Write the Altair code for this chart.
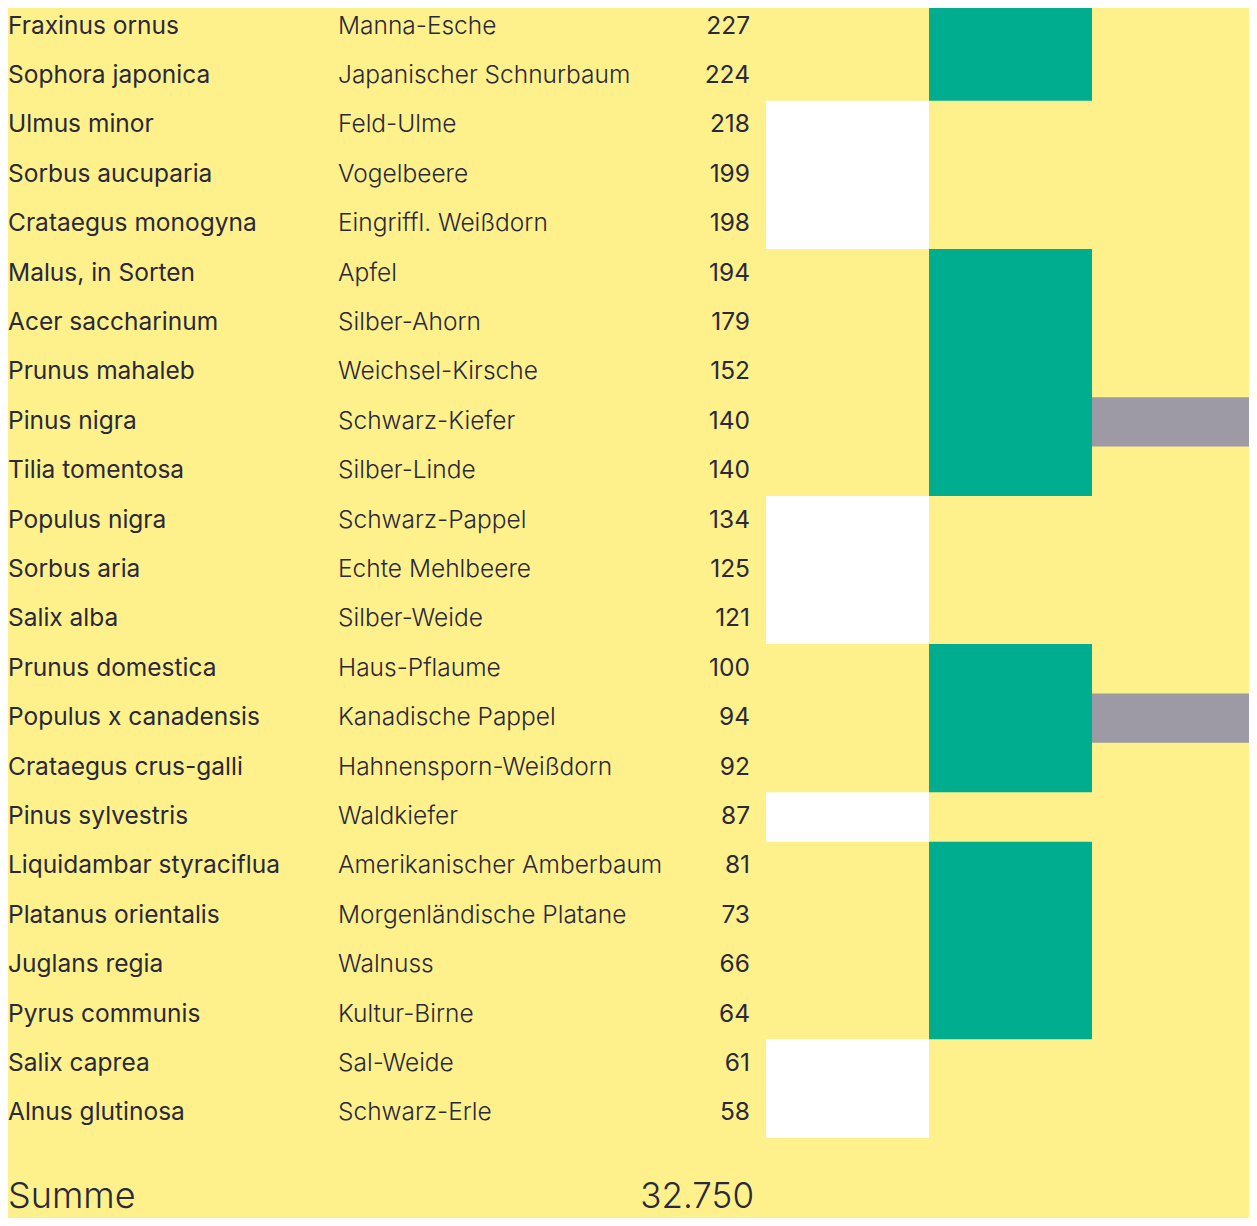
import altair as alt
import pandas as pd

latin = ["Fraxinus ornus", "Sophora japonica", "Ulmus minor", "Sorbus aucuparia",
         "Crataegus monogyna", "Malus, in Sorten", "Acer saccharinum", "Prunus mahaleb",
         "Pinus nigra", "Tilia tomentosa", "Populus nigra", "Sorbus aria", "Salix alba",
         "Prunus domestica", "Populus x canadensis", "Crataegus crus-galli",
         "Pinus sylvestris", "Liquidambar styraciflua", "Platanus orientalis",
         "Juglans regia", "Pyrus communis", "Salix caprea", "Alnus glutinosa"]
german = ["Manna-Esche", "Japanischer Schnurbaum", "Feld-Ulme", "Vogelbeere",
          "Eingriffl. Weißdorn", "Apfel", "Silber-Ahorn", "Weichsel-Kirsche",
          "Schwarz-Kiefer", "Silber-Linde", "Schwarz-Pappel", "Echte Mehlbeere",
          "Silber-Weide", "Haus-Pflaume", "Kanadische Pappel", "Hahnensporn-Weißdorn",
          "Waldkiefer", "Amerikanischer Amberbaum", "Morgenländische Platane",
          "Walnuss", "Kultur-Birne", "Sal-Weide", "Schwarz-Erle"]
counts = [227, 224, 218, 199, 198, 194, 179, 152, 140, 140, 134, 125, 121, 100,
          94, 92, 87, 81, 73, 66, 64, 61, 58]

categories = ["heimisch", "nicht heimisch", "weitere"]
heimisch = ["Ulmus minor", "Sorbus aucuparia", "Crataegus monogyna", "Populus nigra",
            "Sorbus aria", "Salix alba", "Pinus sylvestris", "Salix caprea",
            "Alnus glutinosa"]
nicht_heimisch = ["Fraxinus ornus", "Sophora japonica", "Malus, in Sorten",
                  "Acer saccharinum", "Prunus mahaleb", "Pinus nigra", "Tilia tomentosa",
                  "Prunus domestica", "Populus x canadensis", "Crataegus crus-galli",
                  "Liquidambar styraciflua", "Platanus orientalis", "Juglans regia",
                  "Pyrus communis"]
weitere = ["Pinus nigra", "Populus x canadensis"]

total_label = "Summe"
total = 32750

BG = "#FEF18B"
TXT = "#2A283B"
colors = ["#FFFFFF", "#00AD8E", "#9D9AA5"]

rows = pd.DataFrame({"latin": latin, "german": german, "count": counts})
rows["pos"] = [i + 0.5 for i in range(len(latin))]

# consecutive rows of the same category are merged into one block
block_recs = []
for kat, members in zip(categories, [heimisch, nicht_heimisch, weitere]):
    idx = sorted(latin.index(n) for n in members)
    start = prev = idx[0]
    for i in idx[1:] + [None]:
        if i is not None and i == prev + 1:
            prev = i
            continue
        block_recs.append({"kat": kat, "r0": start, "r1": prev + 1})
        if i is not None:
            start = prev = i
blocks = pd.DataFrame(block_recs)

summe = pd.DataFrame({"label": [total_label],
                      "value": [f"{total:,}".replace(",", ".")]})

yscale = alt.Scale(domain=[0, len(latin)], range=[-6, 1130], nice=False, zero=False)

rects = alt.Chart(blocks).mark_rect().encode(
    x=alt.X("kat:N", scale=alt.Scale(domain=categories, range=[758, 1247],
                                     paddingInner=0, paddingOuter=0), axis=None),
    y=alt.Y("r0:Q", scale=yscale, axis=None),
    y2="r1:Q",
    color=alt.Color("kat:N", scale=alt.Scale(domain=categories, range=colors), legend=None),
)

Y = alt.Y("pos:Q", scale=yscale, axis=None)
base_text = dict(font="Inter", fontSize=24.5, color=TXT, baseline="alphabetic", dy=7)

t_latin = alt.Chart(rows).mark_text(align="left", fontWeight=400, **base_text).encode(
    x=alt.value(0), y=Y, text="latin:N")
t_german = alt.Chart(rows).mark_text(align="left", fontWeight=300, **base_text).encode(
    x=alt.value(330), y=Y, text="german:N")
t_count = alt.Chart(rows).mark_text(align="right", fontWeight=400, **base_text).encode(
    x=alt.value(742), y=Y, text="count:N")

s_label = alt.Chart(summe).mark_text(align="left", baseline="alphabetic", font="Inter",
                                     fontSize=36, fontWeight=300, color=TXT).encode(
    x=alt.value(0), y=alt.value(1200), text="label:N")
s_value = alt.Chart(summe).mark_text(align="right", baseline="alphabetic", font="Inter",
                                     fontSize=35, fontWeight=300, color=TXT).encode(
    x=alt.value(746), y=alt.value(1200), text="value:N")

chart = alt.layer(rects, t_latin, t_german, t_count, s_label, s_value).properties(
    width=1241, height=1210, padding=0,
    autosize=alt.AutoSizeParams(type="none"),
    background=BG,
).configure_view(stroke=None)

chart.save("out.html", embed_options={"renderer": "svg", "actions": False})
